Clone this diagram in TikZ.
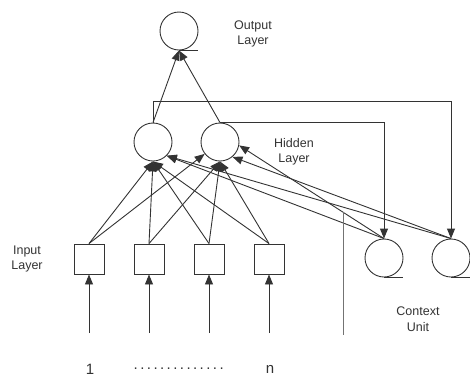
\documentclass[tikz,border=0pt]{standalone}
\usepackage{fontspec}
\setmainfont{Liberation Sans}
\usetikzlibrary{arrows.meta}

\begin{document}
\begin{tikzpicture}[x=1pt,y=-1pt,line width=0.9pt,color=black!80,
  neuron/.style={draw,circle,minimum size=38pt,inner sep=0pt},
  unit/.style={draw,rectangle,minimum size=30pt,inner sep=0pt},
  lbl/.style={align=center,font=\fontsize{12.5}{15.5}\selectfont},
  idx/.style={font=\fontsize{15}{18}\selectfont},
  >={Triangle[length=10pt,width=8pt]}]
  \useasboundingbox (0,0) rectangle (470,378);
  \node[neuron] (out) at (179,31) {};
  \node[neuron] (hA) at (153,142) {};
  \node[neuron] (hB) at (220,142) {};
  \node[neuron] (cA) at (384,258) {};
  \node[neuron] (cB) at (451,258) {};
  \foreach \n in {out,cA,cB}
    \draw (\n.south) -- ++(19,0);
  \foreach \i/\x in {1/89,2/149,3/209,4/269} {
    \node[unit] (in\i) at (\x,259) {};
    \coordinate (src\i) at (\x,333);
    \draw[->] (src\i) -- (in\i.south);
    \draw[->] (in\i.north) -- (hA.south);
  }
  \draw[->] (in1.north) -- (hB);
  \foreach \i in {2,3,4}
    \draw[->] (in\i.north) -- (hB.south);
  \draw[->] (hA.north) -- (out.south);
  \draw[->] (hB.north) -- (out.south);
  \draw[->] (hA.north) -- ++(0,-21) -| (cB.north);
  \draw[->] (hB.north) -| (cA.north);
  \draw[->] (cA.north) -- (hB.-10);
  \draw[->] (cB.north) -- (hB.-50);
  \draw[->] (cA.north) -- (hA.-45);
  \draw[->] (cB.north) -- (hA.-45);
  \draw[black!55] (343,212) -- (343,335);
  \node[lbl] (outlbl) at (253,34) {Output\\Layer};
  \node[lbl] (hidlbl) at (294,152) {Hidden\\Layer};
  \node[lbl] (inlbl) at (27,259) {Input\\Layer};
  \node[lbl] (ctxlbl) at (418,319) {Context\\Unit};
  \node[idx] (first) at (90,369) {1};
  \node[idx] (last) at (270,369) {n};
  \node[idx] (dots) at (181,369) {\makebox[97pt]{\leaders\hbox to 6.6pt{\hss.\hss}\hfill}};
\end{tikzpicture}
\end{document}
